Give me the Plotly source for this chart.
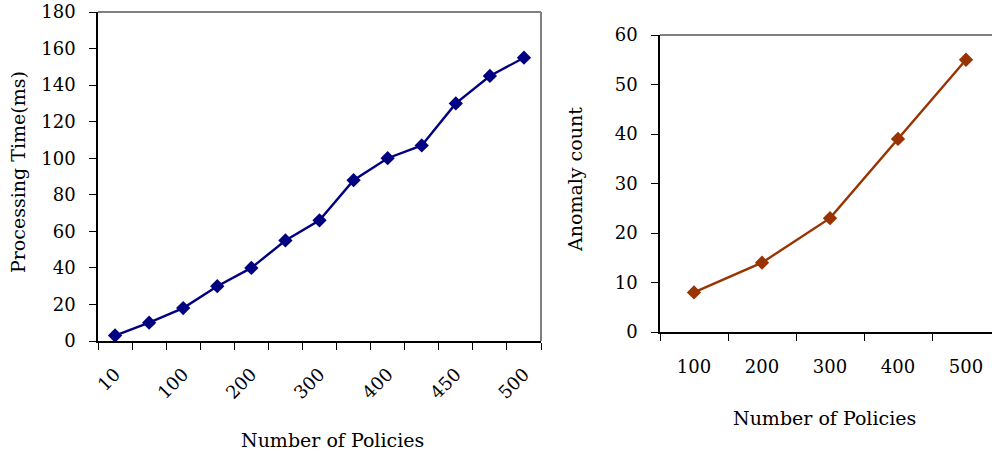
import plotly.graph_objects as go

# Left chart data
left_labels = ["10", "100", "200", "300", "400", "450", "500"]
left_times = [3, 10, 18, 30, 40, 55, 66, 88, 100, 107, 130, 145, 155]

# Right chart data
right_labels = ["100", "200", "300", "400", "500"]
right_counts = [8, 14, 23, 39, 55]

W, H = 992, 456
FONT = "DejaVu Serif"
navy = "#000080"
brown = "#993300"

def px(x):
    return x / W

def py(y):
    return 1 - y / H

lx = list(range(len(left_times)))
rx = list(range(len(right_counts)))

L_X = [px(98), px(541)]
L_Y = [py(341), py(12)]
R_X = [px(660), 1.0]
R_Y = [py(332), py(35)]
# right plot is cut by the page edge: category width ~68 px, plot would end at 1000 px
r_cut = (1000 - W) / 68.0

fig = go.Figure()
fig.add_trace(go.Scatter(
    x=lx, y=left_times, xaxis="x", yaxis="y", mode="lines+markers",
    line=dict(color=navy, width=2.4),
    marker=dict(symbol="diamond", size=11, color=navy),
    showlegend=False, cliponaxis=False))
fig.add_trace(go.Scatter(
    x=rx, y=right_counts, xaxis="x2", yaxis="y2", mode="lines+markers",
    line=dict(color=brown, width=2.4),
    marker=dict(symbol="diamond", size=11, color=brown),
    showlegend=False, cliponaxis=False))

tickfont = dict(family=FONT, size=18, color="black")
titlefont = dict(family=FONT, size=19, color="black")

common = dict(showgrid=False, zeroline=False, showline=True, linecolor="black",
              linewidth=1.5, tickfont=tickfont, automargin=False,
              ticklabeloverflow="allow")

gray = dict(color="#808080", width=2)

fig.update_layout(
    template="none",
    width=W, height=H,
    margin=dict(l=0, r=0, t=0, b=0, pad=0),
    paper_bgcolor="white", plot_bgcolor="white",
    font=tickfont,
    hovermode=False,
    xaxis=dict(
        domain=L_X, anchor="y",
        range=[-0.5, len(left_times) - 0.5],
        tickmode="array", tickvals=lx[::2], ticktext=left_labels,
        tickangle=-45, ticks="", ticklabelstandoff=14,
        minor=dict(tickmode="array", tickvals=[i - 0.5 for i in range(len(left_times) + 1)],
                   ticks="outside", ticklen=7, tickcolor="black", tickwidth=1, showgrid=False),
        **common),
    yaxis=dict(
        domain=L_Y, anchor="x",
        range=[0, 180], dtick=20, ticks="outside", ticklen=7, tickcolor="black",
        ticklabelstandoff=10, **common),
    xaxis2=dict(
        domain=R_X, anchor="y2",
        range=[-0.5, len(right_counts) - 0.5 - r_cut],
        tickmode="array", tickvals=rx, ticktext=right_labels,
        ticks="", ticklabelstandoff=18,
        minor=dict(tickmode="array", tickvals=[i - 0.5 for i in range(len(right_counts))],
                   ticks="outside", ticklen=7, tickcolor="black", tickwidth=1, showgrid=False),
        **common),
    yaxis2=dict(
        domain=R_Y, anchor="x2",
        range=[0, 60], dtick=10, ticks="outside", ticklen=7, tickcolor="black",
        ticklabelstandoff=10, **common),
    shapes=[
        dict(type="line", xref="paper", yref="paper", x0=L_X[0], x1=L_X[1], y0=L_Y[1], y1=L_Y[1],
             line=gray, layer="above"),
        dict(type="line", xref="paper", yref="paper", x0=L_X[1], x1=L_X[1], y0=L_Y[0], y1=L_Y[1],
             line=gray, layer="above"),
        dict(type="line", xref="paper", yref="paper", x0=R_X[0], x1=R_X[1], y0=R_Y[1], y1=R_Y[1],
             line=gray, layer="above"),
    ],
    annotations=[
        dict(text="Number of Policies", xref="paper", yref="paper", x=px(332), y=py(440),
             showarrow=False, font=titlefont, xanchor="center", yanchor="middle"),
        dict(text="Processing Time(ms)", xref="paper", yref="paper", x=px(18), y=py(172),
             showarrow=False, font=titlefont, textangle=-90, xanchor="center", yanchor="middle"),
        dict(text="Number of Policies", xref="paper", yref="paper", x=px(824), y=py(418),
             showarrow=False, font=titlefont, xanchor="center", yanchor="middle"),
        dict(text="Anomaly count", xref="paper", yref="paper", x=px(575), y=py(180),
             showarrow=False, font=titlefont, textangle=-90, xanchor="center", yanchor="middle"),
    ],
)

fig.write_html("out.html", config={"displayModeBar": False},
               post_script="document.body.style.margin='0';document.body.style.overflow='hidden';")
